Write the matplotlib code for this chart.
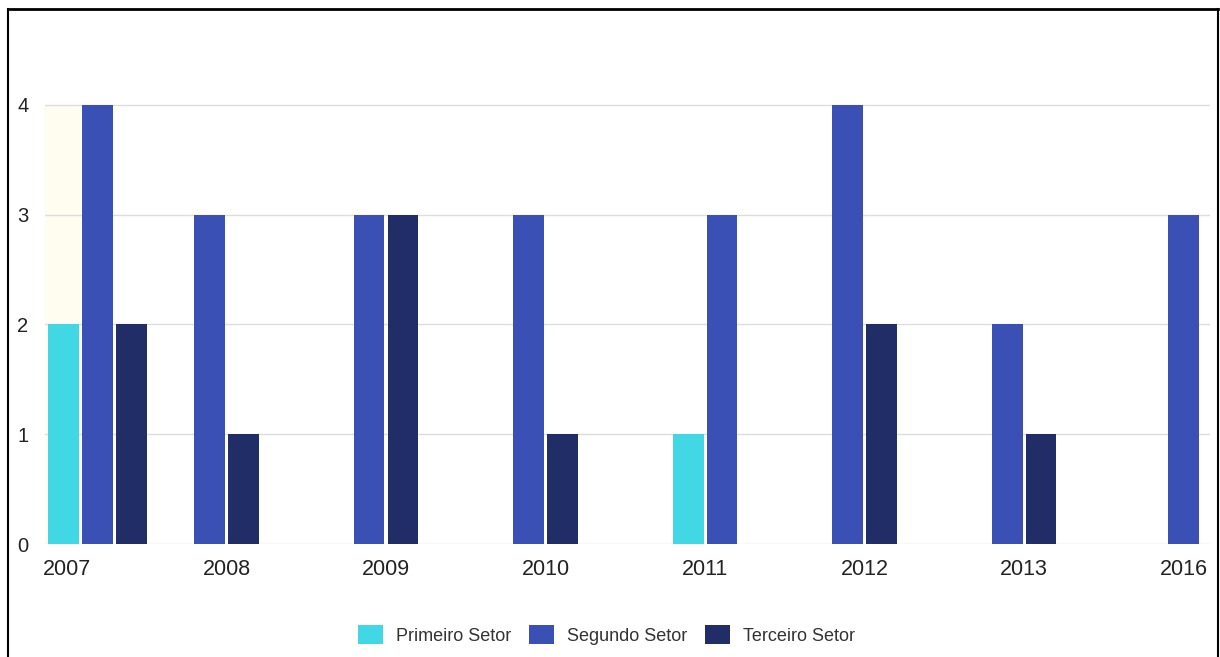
import numpy as np
import matplotlib.pyplot as plt
from matplotlib.lines import Line2D

years = ['2007', '2008', '2009', '2010', '2011', '2012', '2013', '2016']
primeiro = [2, 0, 0, 0, 1, 0, 0, 0]
segundo = [4, 3, 3, 3, 3, 4, 2, 3]
terceiro = [2, 1, 3, 1, 0, 2, 1, 0]

series = ['Primeiro Setor', 'Segundo Setor', 'Terceiro Setor']
cores = ['#41d7e4', '#3a50b4', '#212d66']

plt.rcParams['font.family'] = ['Liberation Sans', 'DejaVu Sans']

fig = plt.figure(figsize=(12.2, 6.57), dpi=100)
ax = fig.add_axes([45 / 1220, 113 / 657, 1165 / 1220, 494 / 657])

x0, x1 = -0.138, 7.166
largura = 0.194
passo = 0.213

valores = [primeiro, segundo, terceiro]
for i, ano in enumerate(years):
    # so as barras com valor, agrupadas em volta do ano
    presentes = [k for k in range(3) if valores[k][i] > 0]
    n = len(presentes)
    total = (n - 1) * passo + largura
    esq = i - total / 2
    if esq < x0:
        esq = x0 + 0.019
    for j, k in enumerate(presentes):
        xc = esq + j * passo + largura / 2
        ax.bar(xc, valores[k][i], width=largura, color=cores[k], zorder=3)
        if i == 0 and k == 0:
            # faixa clara do primeiro grupo
            ax.fill_between([x0, xc + largura / 2 + 0.01], 0, 4,
                            color='#fffdf0', zorder=1, lw=0)

for k in range(3):
    ax.bar(np.nan, np.nan, color=cores[k], label=series[k])

ax.set_xlim(x0, x1)
ax.set_ylim(0, 4.5)
ax.set_yticks([0, 1, 2, 3, 4])
ax.set_xticks(range(len(years)))
ax.set_xticklabels(years)
ax.tick_params(axis='both', length=0, colors='#222222')
ax.tick_params(axis='y', pad=12, labelsize=14.5)
ax.tick_params(axis='x', pad=11, labelsize=15.5)
ax.grid(axis='y', color='#dddddd', lw=1, zorder=0)
for s in ax.spines.values():
    s.set_visible(False)

fig.legend(loc='center', bbox_to_anchor=(0.497, 22 / 657), ncol=3, frameon=False,
           fontsize=13, handlelength=1.4, handleheight=1.2, handletextpad=0.7,
           columnspacing=1.0, labelcolor='#333333')

# moldura
fig.add_artist(Line2D([8 / 1220, 8 / 1220], [0, 648 / 657], color='black', lw=1.5, transform=fig.transFigure))
fig.add_artist(Line2D([8 / 1220, 1218 / 1220], [648 / 657, 648 / 657], color='black', lw=2, transform=fig.transFigure))
fig.add_artist(Line2D([1218 / 1220, 1218 / 1220], [0, 648 / 657], color='black', lw=1.5, transform=fig.transFigure))

fig.savefig('out.png', dpi=100)
